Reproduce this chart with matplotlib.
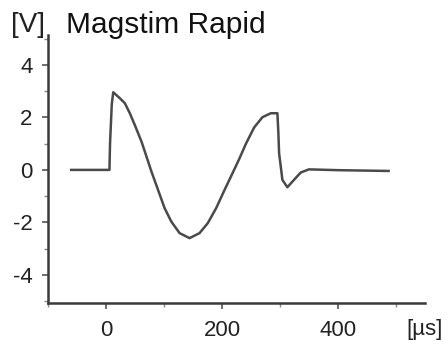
import matplotlib
matplotlib.use("Agg")
import matplotlib.pyplot as plt
from matplotlib.ticker import MultipleLocator

plt.rcParams['font.family'] = ['Liberation Sans', 'DejaVu Sans']
plt.rcParams['axes.unicode_minus'] = False

# Data
time_us = [-60, 6, 7, 10, 12.5, 24, 32.6, 41.1, 49.7, 61.2, 69.8, 78.3, 89.7, 101.1,
           112.6, 126.9, 144, 161.2, 175.4, 189.8, 204, 218.2, 229.7, 241.2, 255.4,
           269.7, 284, 295.4, 297.1, 298.3, 301.2, 304, 312.6, 324, 335.5, 349.7,
           400, 487]
voltage = [0, 0, 1.0, 2.5, 2.96, 2.73, 2.54, 2.16, 1.71, 1.08, 0.51, -0.06, -0.76,
           -1.46, -1.97, -2.41, -2.60, -2.41, -2.03, -1.46, -0.78, -0.12, 0.42, 1.0,
           1.62, 2.01, 2.16, 2.16, 1.40, 0.64, 0.13, -0.38, -0.66, -0.38, -0.10, 0.02,
           -0.01, -0.04]
x_ticks = [0, 200, 400]
y_ticks = [-4, -2, 0, 2, 4]
title = "Magstim Rapid"
x_unit = "[µs]"
y_unit = "[V]"

fig = plt.figure(figsize=(4.48, 3.47), dpi=100)
ax = fig.add_axes([0.107, 0.127, 0.842, 0.772])
ax.plot(time_us, voltage, color='#4a4a4a', lw=1.8, solid_joinstyle='round')
ax.set_xlim(-100, 550)
ax.set_ylim(-5.07, 5.14)
ax.set_xticks(x_ticks)
ax.set_yticks(y_ticks)
ax.xaxis.set_minor_locator(MultipleLocator(100))
ax.yaxis.set_minor_locator(MultipleLocator(1))
for s in ['top', 'right']:
    ax.spines[s].set_visible(False)
for s in ['left', 'bottom']:
    ax.spines[s].set_linewidth(1.8)
    ax.spines[s].set_color('#3a3a3a')
ax.tick_params(which='major', length=4, width=1.2, color='#555555', labelsize=16,
               labelcolor='#222222')
ax.tick_params(axis='x', pad=8)
ax.tick_params(axis='y', pad=7)
ax.tick_params(which='minor', length=3, width=1.0, color='#888888')

fig.text(66/448, 1 - 25/347, title, fontsize=21.5, va='center', ha='left', color='#111111')
fig.text(11/448, 1 - 25/347, y_unit, fontsize=20, va='center', ha='left', color='#222222')
fig.text(425/448, 1 - 330/347, x_unit, fontsize=16, va='center', ha='center', color='#222222')

fig.savefig('out.png', dpi=100)
